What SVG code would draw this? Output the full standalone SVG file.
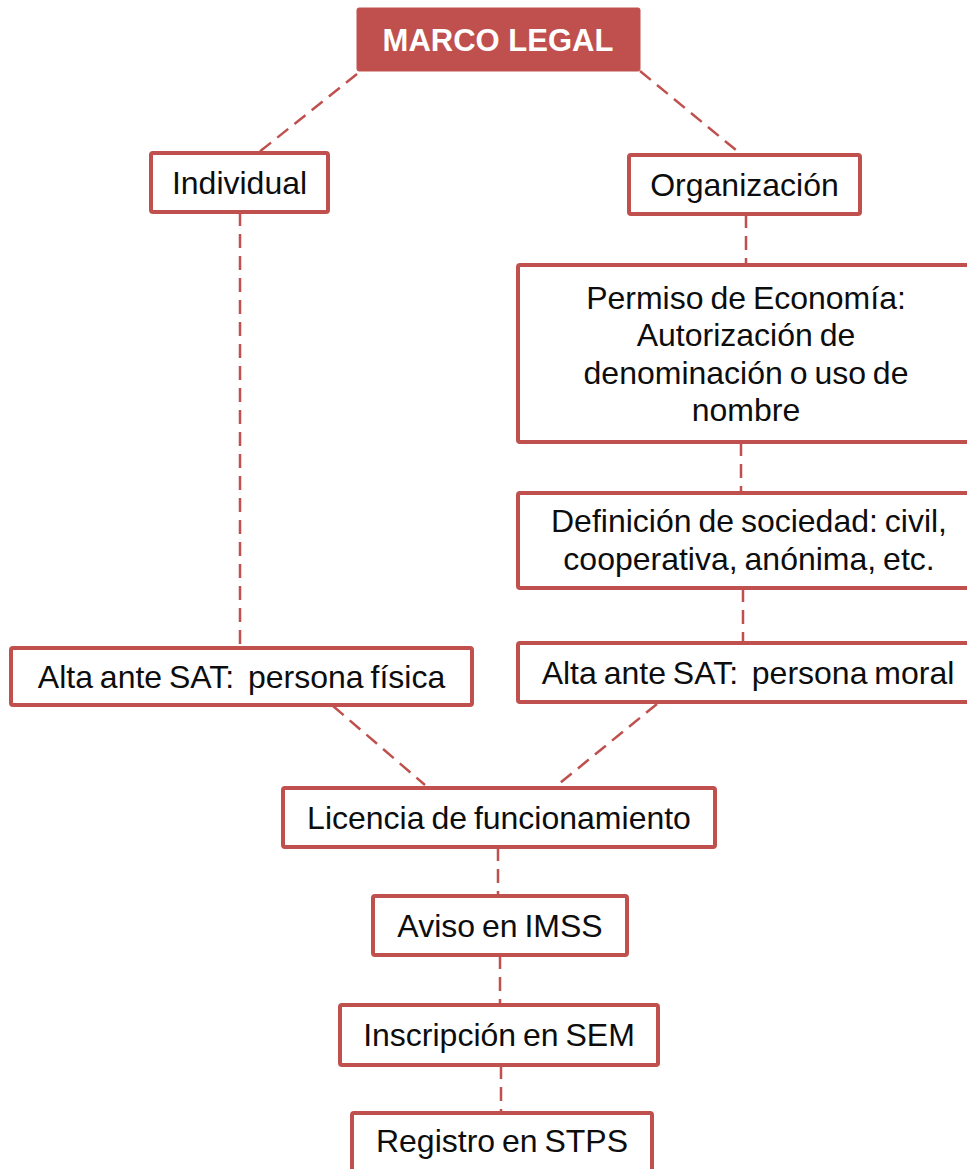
<svg xmlns="http://www.w3.org/2000/svg" width="967" height="1169" viewBox="0 0 967 1169">
<style>
.box{fill:#ffffff;stroke:#C0504D;stroke-width:4}
.head{fill:#C0504D;stroke:#C0504D;stroke-width:1}
.t{font-family:"Liberation Sans",Arial,sans-serif;font-size:32px;word-spacing:-2px;fill:#0d0d0d;text-anchor:middle}
.th{font-family:"Liberation Sans",Arial,sans-serif;font-size:31px;font-weight:bold;fill:#ffffff;text-anchor:middle}
.c{stroke:#C0504D;stroke-width:2.5;stroke-dasharray:14 8;fill:none}
</style>
<rect width="967" height="1169" fill="#ffffff"/>
<g id="connectors">
<line class="c" x1="357" y1="74" x2="258" y2="153"/>
<line class="c" x1="640" y1="71" x2="742" y2="155"/>
<line class="c" x1="240" y1="212" x2="240" y2="648"/>
<line class="c" x1="746" y1="214" x2="746" y2="265"/>
<line class="c" x1="741" y1="442" x2="741" y2="493"/>
<line class="c" x1="743" y1="588" x2="743" y2="643"/>
<line class="c" x1="333" y1="706" x2="425" y2="785"/>
<line class="c" x1="657" y1="704" x2="560" y2="783"/>
<line class="c" x1="498" y1="847" x2="498" y2="896"/>
<line class="c" x1="500" y1="955" x2="500" y2="1005"/>
<line class="c" x1="501" y1="1065" x2="501" y2="1113"/>
</g>
<g id="marco">
<rect class="head" x="357" y="8" width="283" height="63" rx="2"/>
<text class="th" x="498" y="51">MARCO LEGAL</text>
</g>
<g id="individual">
<rect class="box" x="151" y="153" width="177" height="59" rx="2"/>
<text class="t" x="239.5" y="194">Individual</text>
</g>
<g id="organizacion">
<rect class="box" x="629" y="155" width="231" height="59" rx="2"/>
<text class="t" x="744.5" y="196">Organización</text>
</g>
<g id="permiso">
<rect class="box" x="518" y="265" width="458" height="177" rx="2"/>
<text class="t" x="746" y="309">Permiso de Economía:</text>
<text class="t" x="746" y="346">Autorización de</text>
<text class="t" x="746" y="384">denominación o uso de</text>
<text class="t" x="746" y="421">nombre</text>
</g>
<g id="definicion">
<rect class="box" x="518" y="493" width="458" height="95" rx="2"/>
<text class="t" x="749" y="532">Definición de sociedad: civil,</text>
<text class="t" x="749" y="570">cooperativa, anónima, etc.</text>
</g>
<g id="alta-fisica">
<rect class="box" x="11" y="648" width="461" height="57" rx="2"/>
<text class="t" x="241.5" y="688" xml:space="preserve">Alta ante SAT:  persona física</text>
</g>
<g id="alta-moral">
<rect class="box" x="518" y="643" width="458" height="59" rx="2"/>
<text class="t" x="748" y="684" xml:space="preserve">Alta ante SAT:  persona moral</text>
</g>
<g id="licencia">
<rect class="box" x="283" y="788" width="432" height="59" rx="2"/>
<text class="t" x="499" y="829">Licencia de funcionamiento</text>
</g>
<g id="aviso">
<rect class="box" x="373" y="896" width="254" height="59" rx="2"/>
<text class="t" x="500" y="937">Aviso en IMSS</text>
</g>
<g id="inscripcion">
<rect class="box" x="340" y="1005" width="318" height="60" rx="2"/>
<text class="t" x="499" y="1046">Inscripción en SEM</text>
</g>
<g id="registro">
<rect class="box" x="352" y="1113" width="300" height="60" rx="2"/>
<text class="t" x="502" y="1152">Registro en STPS</text>
</g>
</svg>
